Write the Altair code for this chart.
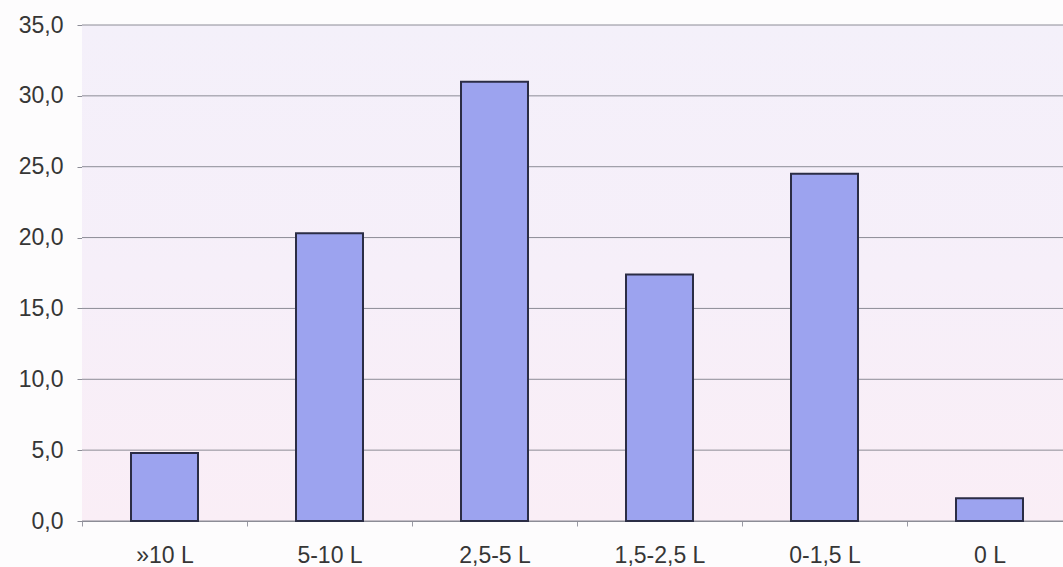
import altair as alt
import pandas as pd

# Share of respondents by volume class
categories = ["»10 L", "5-10 L", "2,5-5 L", "1,5-2,5 L", "0-1,5 L", "0 L"]
values = [4.8, 20.3, 31.0, 17.4, 24.5, 1.6]
y_ticks = [0, 5, 10, 15, 20, 25, 30, 35]

df = pd.DataFrame({"cat": categories, "val": values})
grid_df = pd.DataFrame({"tick": y_ticks})

W, H = 981, 496
FONT = "Liberation Sans"
FS = 23

y_scale = alt.Scale(domain=[0, 35], nice=False)

# soft lavender backdrop of the plot area
backdrop = alt.Chart(df).mark_rect(
    fill=alt.LinearGradient(
        gradient="linear",
        x1=0, y1=0, x2=0, y2=1,
        stops=[
            alt.GradientStop(color="#f4f0fa", offset=0),
            alt.GradientStop(color="#f6eff9", offset=0.5),
            alt.GradientStop(color="#faeef6", offset=1),
        ],
    )
).encode(
    x=alt.value(0), x2=alt.value(W), y=alt.value(0), y2=alt.value(H)
)

# horizontal gridlines, drawn above the backdrop and below the bars
grid = alt.Chart(grid_df).mark_rule(color="#8c8c96", strokeWidth=1).encode(
    y=alt.Y("tick:Q", scale=y_scale),
    x=alt.value(0),
    x2=alt.value(W),
)

bars = alt.Chart(df).mark_bar(
    width=alt.RelativeBandSize(0.406),
    fill="#9ca3ef",
    stroke="#2b2d45",
    strokeWidth=2,
).encode(
    x=alt.X(
        "cat:N",
        sort=categories,
        title=None,
        scale=alt.Scale(range=[0, 990], paddingInner=0, paddingOuter=0),
        axis=alt.Axis(
            labelAngle=0,
            labelFont=FONT,
            labelFontSize=FS,
            labelColor="#363636",
            labelPadding=18,
            tickBand="extent",
            tickSize=5,
            tickColor="#9a9aa4",
            domainColor="#8c8c96",
            grid=False,
        ),
    ),
    y=alt.Y(
        "val:Q",
        title=None,
        scale=y_scale,
        axis=alt.Axis(
            values=y_ticks,
            labelExpr="replace(format(datum.value, '.1f'), '.', ',')",
            labelFont=FONT,
            labelFontSize=FS,
            labelColor="#363636",
            labelPadding=14,
            tickSize=5,
            tickColor="#8c8c96",
            domainColor="#8c8c96",
            grid=False,
        ),
    ),
)

chart = (
    alt.layer(backdrop, grid, bars)
    .properties(
        width=W,
        height=H,
        autosize="none",
        padding={"left": 82, "top": 25, "right": 0, "bottom": 46},
        background="#fdfcfd",
    )
    .configure_view(stroke=None)
)

chart.save("out.html", embed_options={"renderer": "svg", "actions": False})
